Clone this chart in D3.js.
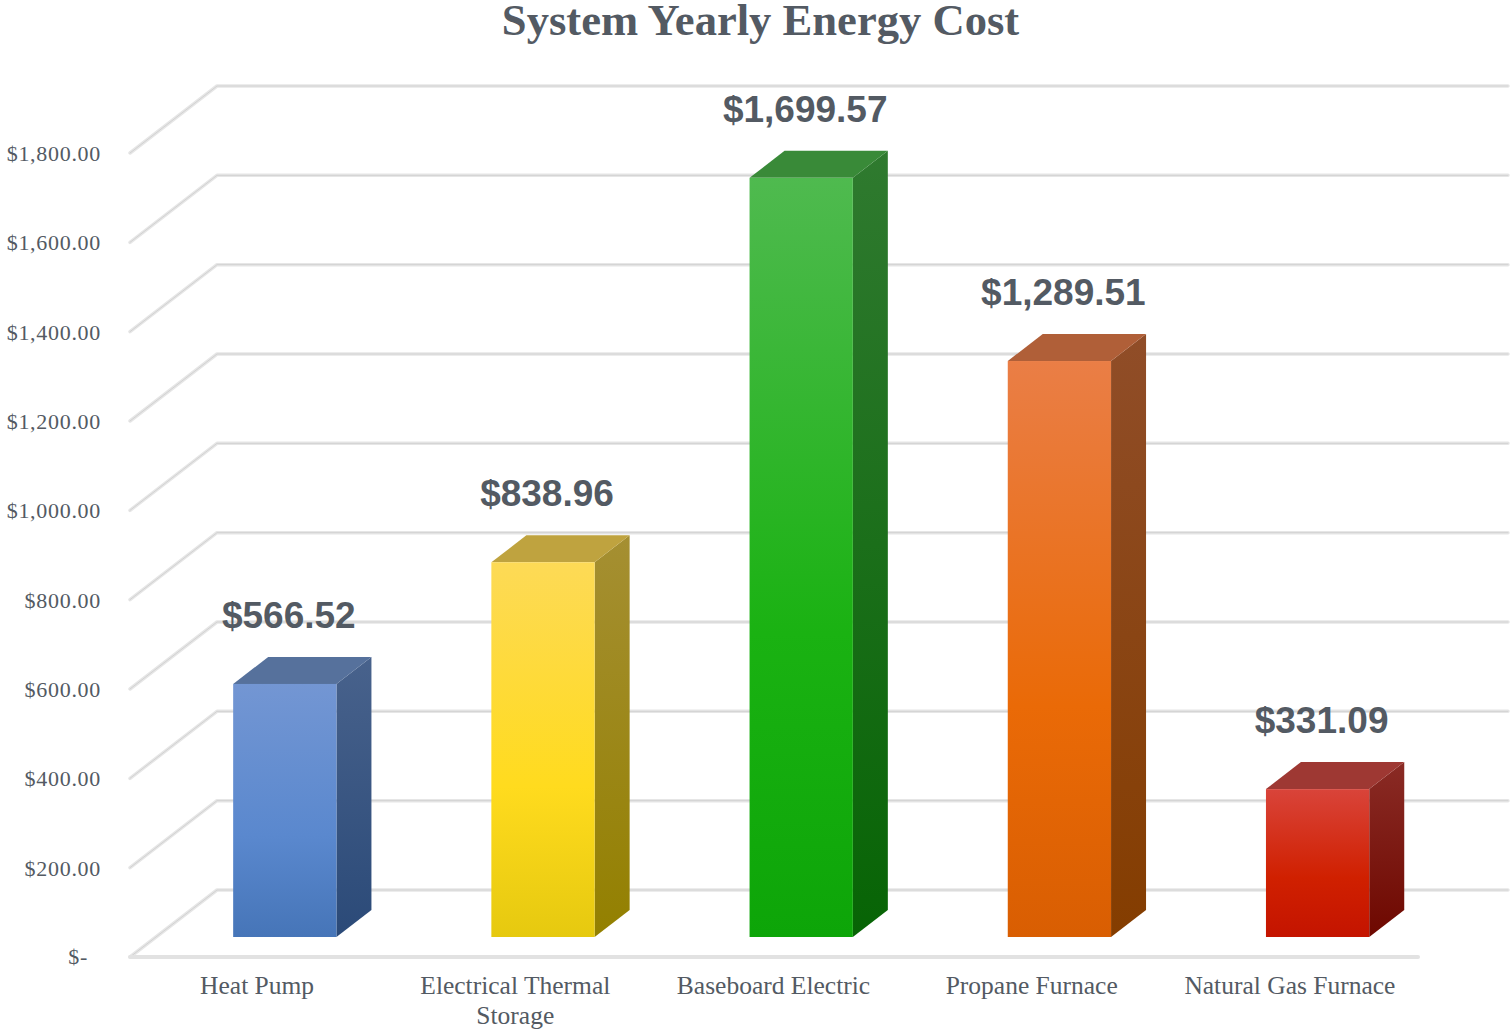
<!DOCTYPE html>
<html>
<head>
<meta charset="utf-8">
<style>
  html, body { margin: 0; padding: 0; background: #fff; }
  svg { display: block; }
  text { fill: #535a63; }
</style>
<script src="https://d3js.org/d3.v7.min.js"></script>
</head>
<body>
<div id="chart"></div>
<script>
// values
const categories = ["Heat Pump", "Electrical Thermal Storage", "Baseboard Electric", "Propane Furnace", "Natural Gas Furnace"];
const costs = [566.52, 838.96, 1699.57, 1289.51, 331.09];
const yTicks = [0, 200, 400, 600, 800, 1000, 1200, 1400, 1600, 1800];
const title = "System Yearly Energy Cost";

// colours per bar: front top, front middle, front bottom, side top, side bottom, cap
const barColors = [
  ["#7396d3", "#5a88ce", "#4675b8", "#48628c", "#2b4a78", "#56719c"],
  ["#fdda56", "#ffdb1e", "#e6c90f", "#a58f32", "#938000", "#bfa33f"],
  ["#4fba4f", "#1ab212", "#0da508", "#2f7a2f", "#076405", "#398a38"],
  ["#ea7e46", "#ea6a07", "#d95e02", "#904d28", "#843d00", "#b05f38"],
  ["#d9443a", "#d02000", "#c41400", "#8a2b25", "#6e0800", "#9e3833"]
];

const width = 1512, height = 1031;
const depth = {x: 87, y: -67};          // floor depth
const barDepth = {x: 35, y: -27};       // depth of a bar
const barInset = {x: 25.7, y: -20};     // front of bar relative to the front plane

const svg = d3.select("#chart").append("svg")
  .attr("width", width)
  .attr("height", height);

const x = d3.scaleBand()
  .domain(categories)
  .range([130, 1421])
  .paddingInner(0.6)
  .paddingOuter(0.3);

const y = d3.scaleLinear()
  .domain([0, 1800])
  .range([957, 153]);

const money = d3.format("$,.2f");

// gradients
const defs = svg.append("defs");
barColors.forEach((c, i) => {
  const front = defs.append("linearGradient")
    .attr("id", "front" + i).attr("x1", 0).attr("x2", 0).attr("y1", 0).attr("y2", 1);
  front.append("stop").attr("offset", "0%").attr("stop-color", c[0]);
  front.append("stop").attr("offset", "60%").attr("stop-color", c[1]);
  front.append("stop").attr("offset", "100%").attr("stop-color", c[2]);

  const side = defs.append("linearGradient")
    .attr("id", "side" + i).attr("x1", 0).attr("x2", 0).attr("y1", 0).attr("y2", 1);
  side.append("stop").attr("offset", "0%").attr("stop-color", c[3]);
  side.append("stop").attr("offset", "100%").attr("stop-color", c[4]);
});

// gridlines: back wall plus the slanted part on the left wall
const grid = svg.append("g")
  .attr("fill", "none")
  .attr("stroke-linejoin", "round")
  .attr("stroke-linecap", "round");

const gridPath = d => {
  const p = d3.path();
  p.moveTo(x.range()[0], y(d));
  p.lineTo(x.range()[0] + depth.x, y(d) + depth.y);
  p.lineTo(width - 4, y(d) + depth.y);
  return p.toString();
};

grid.selectAll("path.wide")
  .data(yTicks)
  .join("path")
    .attr("class", "wide")
    .attr("d", gridPath)
    .attr("stroke", "#e6e6e6")
    .attr("stroke-width", 3.5);

grid.selectAll("path.thin")
  .data(yTicks)
  .join("path")
    .attr("class", "thin")
    .attr("d", gridPath)
    .attr("stroke", "#d2d2d2")
    .attr("stroke-width", 1);

// floor front edge
svg.append("line")
  .attr("x1", x.range()[0]).attr("x2", x.range()[1] - 3)
  .attr("y1", y(0)).attr("y2", y(0))
  .attr("stroke", "#e2e2e2")
  .attr("stroke-width", 4)
  .attr("stroke-linecap", "round");

// bars
const bars = svg.append("g")
  .selectAll("g")
  .data(categories)
  .join("g");

const frontX = d => x(d) + barInset.x;
const frontTop = (d, i) => y(costs[i]) + barInset.y;
const frontBottom = y(0) + barInset.y;
const poly = pts => d3.line()(pts) + "Z";

bars.append("path")   // side
  .attr("fill", (d, i) => `url(#side${i})`)
  .attr("d", (d, i) => {
    const r = frontX(d) + x.bandwidth(), t = frontTop(d, i);
    return poly([[r, t], [r + barDepth.x, t + barDepth.y], [r + barDepth.x, frontBottom + barDepth.y], [r, frontBottom]]);
  });

bars.append("path")   // cap
  .attr("fill", (d, i) => barColors[i][5])
  .attr("d", (d, i) => {
    const l = frontX(d), r = l + x.bandwidth(), t = frontTop(d, i);
    return poly([[l, t], [r, t], [r + barDepth.x, t + barDepth.y], [l + barDepth.x, t + barDepth.y]]);
  });

bars.append("rect")   // front
  .attr("x", frontX)
  .attr("y", frontTop)
  .attr("width", x.bandwidth())
  .attr("height", (d, i) => frontBottom - frontTop(d, i))
  .attr("fill", (d, i) => `url(#front${i})`);

// value labels
bars.append("text")
  .attr("x", d => frontX(d) + x.bandwidth() / 2 + 4)
  .attr("y", (d, i) => frontTop(d, i) + barDepth.y - 29)
  .attr("text-anchor", "middle")
  .style("font-family", "'Liberation Sans', Arial, sans-serif")
  .style("font-weight", "bold")
  .style("font-size", "37px")
  .text((d, i) => money(costs[i]));

// y axis labels
const yAxis = svg.append("g")
  .attr("transform", "translate(101,0)")
  .call(d3.axisLeft(y).tickValues(yTicks).tickSize(0).tickPadding(0)
    .tickFormat(d => d === 0 ? "$-" : money(d)));
yAxis.select(".domain").remove();
yAxis.selectAll("text")
  .attr("dy", "0.34em")
  .style("font-family", "'Liberation Serif', serif")
  .style("font-size", "22px")
  .style("letter-spacing", "0.7px");
yAxis.selectAll(".tick").filter(d => d === 0).select("text")
  .attr("dx", -13)
  .attr("dy", "0.3em");

// category labels, the long one wraps below its last word
const catLabels = svg.append("g")
  .selectAll("text")
  .data(categories)
  .join("text")
    .attr("y", 994)
    .attr("text-anchor", "middle")
    .style("font-family", "'Liberation Serif', serif")
    .style("font-size", "25.5px");

catLabels.each(function(d) {
  const el = d3.select(this).text(d);
  const words = d.split(" ");
  const lines = this.getComputedTextLength() > 240
    ? [words.slice(0, -1).join(" "), words[words.length - 1]]
    : [d];
  el.text(null).selectAll("tspan")
    .data(lines)
    .join("tspan")
      .attr("x", x(d) + x.bandwidth() / 2 - 2)
      .attr("dy", (l, i) => i ? 30 : 0)
      .text(l => l);
});

// title
svg.append("text")
  .attr("x", 760.5)
  .attr("y", 35)
  .attr("text-anchor", "middle")
  .style("font-family", "'Liberation Serif', serif")
  .style("font-weight", "bold")
  .style("font-size", "44.6px")
  .text(title);
</script>
</body>
</html>
